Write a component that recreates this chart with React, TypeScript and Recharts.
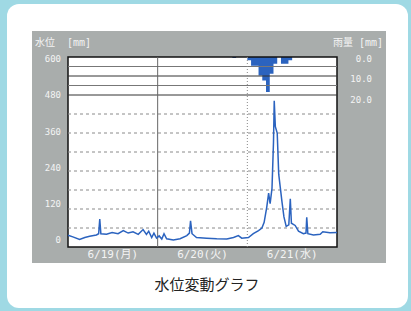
import {
  Area,
  CartesianGrid,
  ComposedChart,
  Line,
  ReferenceArea,
  ReferenceLine,
  XAxis,
  YAxis,
} from "recharts";

// hours counted from 6/19 00:00
const LEVEL_HOURS = [
  0, 1.3, 3.1, 4.5, 5.8, 7.6, 8.2, 8.5, 8.8, 10.3, 11.8, 13.4, 14.8, 16.1, 17.4, 18.8,
  20.1, 21, 21.6, 22.4, 23, 23.7, 24.4, 25.1, 25.7, 26.4, 28.2, 30, 31.8, 32.5, 32.8,
  33.2, 34.4, 37.1, 39.8, 42.5, 44.3, 45.6, 46.5, 48.3, 49.6, 51, 51.9, 52.5, 53.2,
  53.7, 54.1, 54.6, 55, 55.2, 55.5, 56, 56.4, 56.8, 57.3, 57.8, 58.4, 59.1, 59.5, 59.8,
  60.8, 61.7, 63, 63.7, 63.9, 64.2, 65.7, 67.5, 68.2, 70.1, 72,
];
const LEVEL_VALUES = [
  37, 32, 24, 30, 34, 38, 42, 88, 42, 40, 46, 42, 52, 44, 48, 40,
  55, 40, 50, 30, 44, 28, 35, 25, 42, 26, 22, 26, 36, 44, 83,
  42, 30, 28, 26, 25, 30, 36, 28, 30, 42, 52, 60, 78, 126,
  170, 137, 185, 330, 462, 380, 360, 230, 190, 140, 95, 65, 70, 152, 75,
  68, 50, 42, 44, 94, 42, 38, 40, 48, 45, 46,
];

const RAIN_HOURS = [44, 45, 48, 49, 50, 51, 52, 53, 54, 55, 56, 57, 58, 59, 60];
const RAIN_VALUES = [0.5, 0, 1.7, 4.6, 4.6, 9.8, 12.4, 18.4, 8.8, 3.6, 0, 3.6, 3.6, 1.7, 0];

const LEVEL_TICKS = [0, 120, 240, 360, 480, 600];
const LEVEL_GRID = [60, 120, 180, 240, 300, 360, 420];
const RAIN_TICKS = [0, 10, 20];
const RAIN_GRID = [5, 10, 15, 20];
const DAY_TICKS = [12, 36, 60];
const DAY_LABELS = ["6/19(月)", "6/20(火)", "6/21(水)"];

const levelData = LEVEL_HOURS.map((h, i) => ({ h, level: LEVEL_VALUES[i] }));
const rainData = RAIN_HOURS.map((h, i) => ({ h, rain: RAIN_VALUES[i] }));

const BLUE = "#2b63bf";
const LABEL = "#f4f4f4";
const MONO = "'DejaVu Sans Mono', 'Noto Sans CJK JP', monospace";

function LevelTick({ x, y, payload }: any) {
  const v = payload.value as number;
  return (
    <text x={x} y={y - 7 + (v / 600) * 9} dy="0.35em" textAnchor="end" fontSize={9} fill={LABEL} fontFamily={MONO}>
      {v}
    </text>
  );
}

function RainTick({ x, y, payload }: any) {
  const v = payload.value as number;
  return (
    <text x={x} y={y + 2 + v * 0.13} dy="0.35em" textAnchor="end" fontSize={9} fill={LABEL} fontFamily={MONO}>
      {v.toFixed(1)}
    </text>
  );
}

export default function App() {
  return (
    <div style={{ position: "absolute", left: 0, top: 0, width: 411, height: 311, background: "#9fd9e4", overflow: "hidden" }}>
      <div style={{ position: "absolute", left: 7, top: 4, width: 401, height: 304, background: "#fff", borderRadius: 12 }} />
      <div style={{ position: "absolute", left: 32, top: 31, width: 354, height: 232, background: "#a9adac" }} />
      <div style={{ position: "absolute", left: 35, top: 34, fontSize: 10, color: LABEL, fontFamily: MONO, whiteSpace: "pre" }}>
        {"水位  [mm]"}
      </div>
      <div style={{ position: "absolute", left: 333, top: 34, fontSize: 10, color: LABEL, fontFamily: MONO, whiteSpace: "pre" }}>
        {"雨量 [mm]"}
      </div>
      <div style={{ position: "absolute", left: 0, width: 414, top: 273, textAlign: "center", fontSize: 15, color: "#222", fontFamily: "'Noto Sans CJK JP', sans-serif" }}>
        水位変動グラフ
      </div>
      <div style={{ position: "absolute", left: 0, top: 0 }}>
        <ComposedChart width={411} height={311} margin={{ top: 57, right: 14, left: 30, bottom: 34 }}>
          <CartesianGrid horizontal={false} vertical={false} fill="#fff" yAxisId="left" />
          <XAxis
            dataKey="h"
            type="number"
            domain={[0, 72]}
            ticks={DAY_TICKS}
            interval={0}
            tickFormatter={(v) => DAY_LABELS[DAY_TICKS.indexOf(v)]}
            tickLine={false}
            axisLine={false}
            tickSize={0}
            tickMargin={3}
            height={30}
            tick={{ fontSize: 11, fill: LABEL, fontFamily: MONO }}
          />
          <YAxis
            yAxisId="left"
            domain={[0, 600]}
            ticks={LEVEL_TICKS}
            interval={0}
            tickLine={false}
            axisLine={false}
            tickSize={5}
            tickMargin={2}
            width={38}
            tick={<LevelTick />}
          />
          <YAxis
            yAxisId="right"
            orientation="right"
            domain={[0, 100]}
            reversed
            ticks={RAIN_TICKS}
            interval={0}
            tickLine={false}
            axisLine={false}
            tickSize={33}
            tickMargin={2}
            width={60}
            tick={<RainTick />}
          />
          {LEVEL_GRID.map((v) => (
            <ReferenceLine key={v} yAxisId="left" y={v} stroke="#8a8a8a" strokeDasharray="3 3" />
          ))}
          {RAIN_GRID.map((v) => (
            <ReferenceLine key={v} yAxisId="right" y={v} stroke={v % 10 === 0 ? "#333" : "#777"} />
          ))}
          <ReferenceLine yAxisId="left" x={24} stroke="#666" />
          <ReferenceLine yAxisId="left" x={48} stroke="#888" strokeDasharray="1 2" />
          <Area
            data={rainData}
            yAxisId="right"
            dataKey="rain"
            type="stepAfter"
            fill={BLUE}
            fillOpacity={1}
            stroke="none"
            isAnimationActive={false}
          />
          <Line
            data={levelData}
            yAxisId="left"
            dataKey="level"
            type="linear"
            stroke={BLUE}
            strokeWidth={1.5}
            dot={false}
            isAnimationActive={false}
          />
          <ReferenceArea yAxisId="left" x1={0} x2={72} y1={0} y2={600} fill="none" stroke="#111" strokeWidth={1.5} />
        </ComposedChart>
      </div>
    </div>
  );
}
